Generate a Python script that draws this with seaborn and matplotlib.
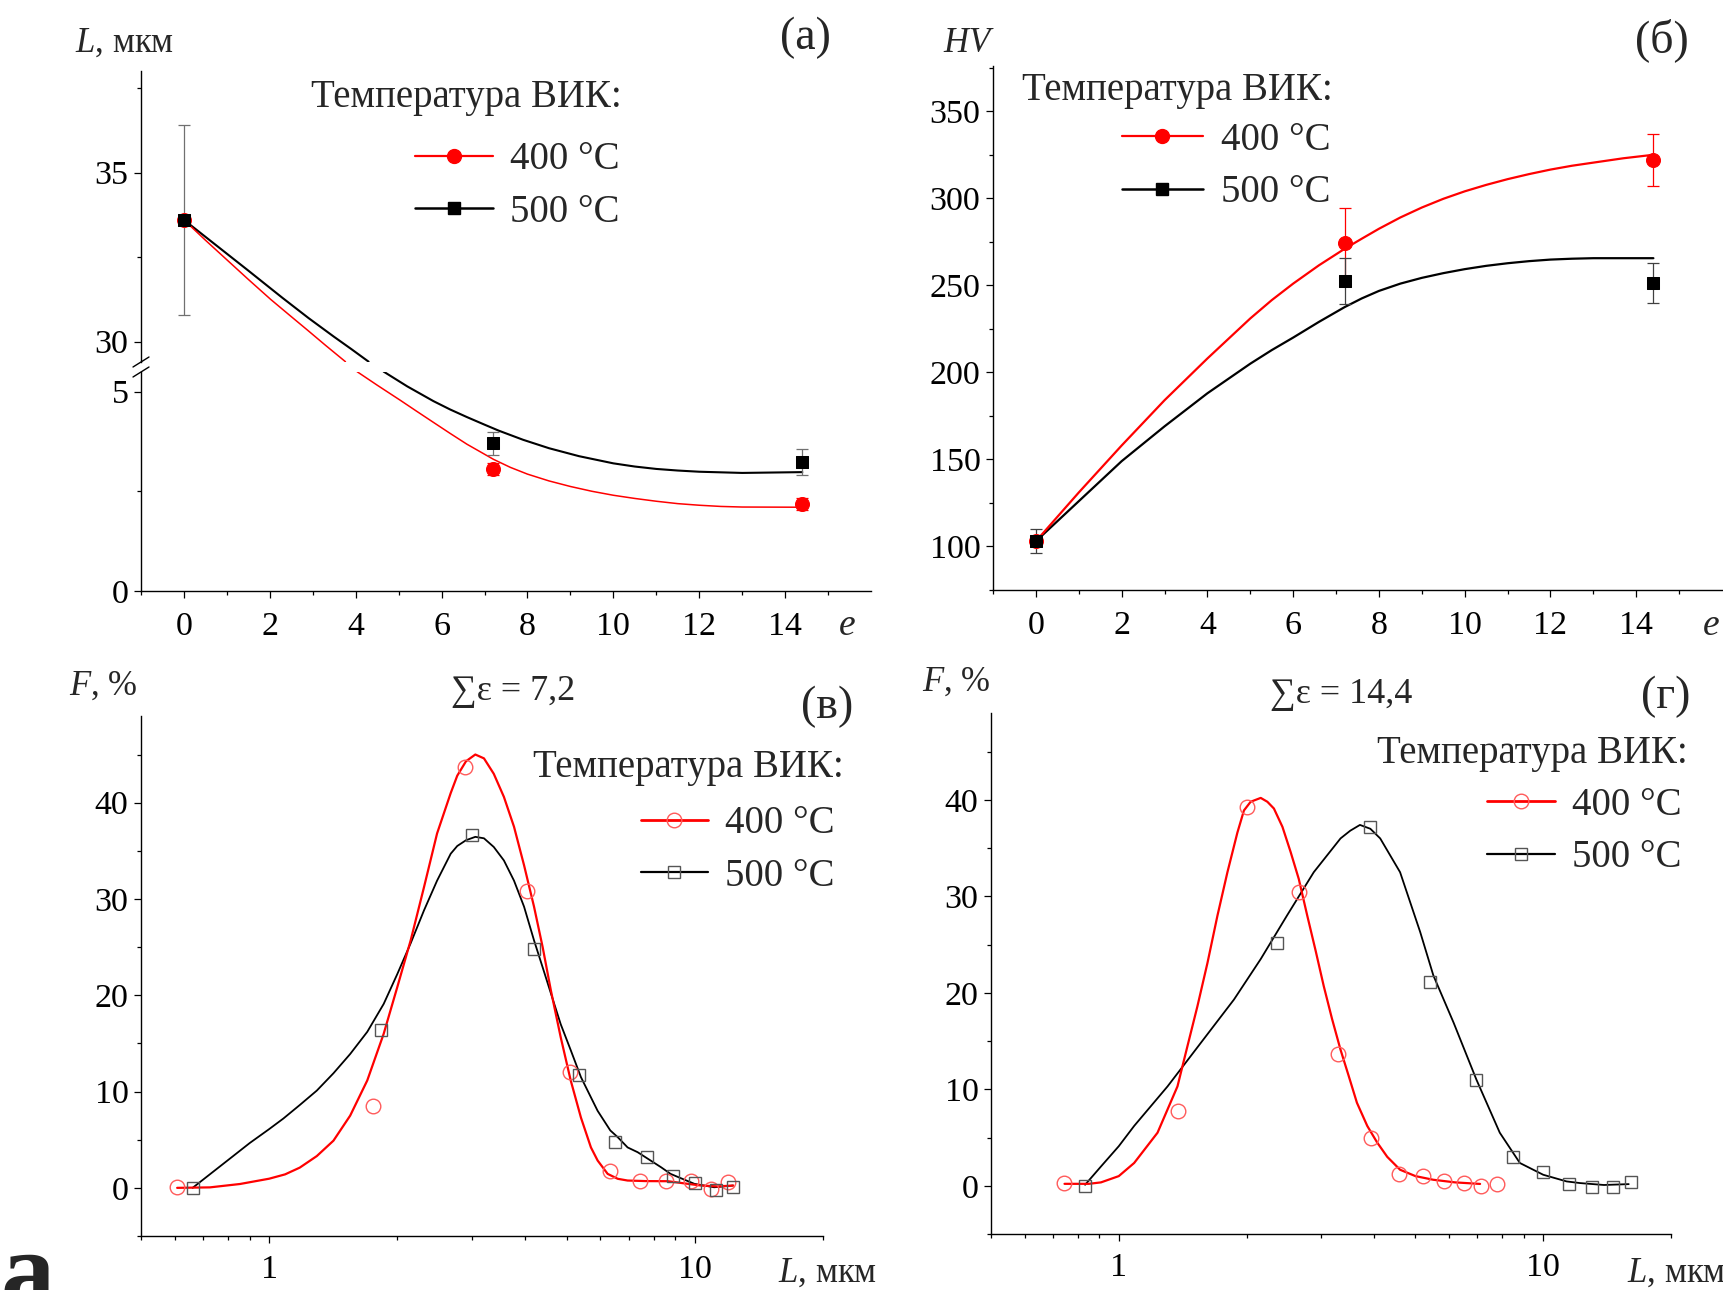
import numpy as np
import pandas as pd
import seaborn as sns
import matplotlib.pyplot as plt
from matplotlib.lines import Line2D
from matplotlib.ticker import FixedLocator, MultipleLocator, LogLocator, NullFormatter

W, H = 1724, 1290

# (а) grain size L vs strain e
e_pts = [0, 7.2, 14.4]
L_400 = [33.6, 3.05, 2.18]
L_400_err = [2.8, 0.15, 0.15]
L_500 = [33.6, 3.70, 3.24]
L_500_err = [2.8, 0.28, 0.32]
# fit curves (axis broken between 5.5 and 29.4)
fit_e_400 = [0, 0.5, 1, 1.5, 2.02, 2.5, 2.87, 3.3, 3.76, 4.03, 4.5, 5.04, 5.4, 5.82, 6.2, 6.59, 7.21,
             7.6, 8.0, 8.5, 9.0, 9.5, 10, 10.5, 11, 11.5, 12, 12.5, 13, 14.4]
fit_L_400 = [33.6, 33.0, 32.42, 31.84, 31.25, 30.74, 30.35, 29.89, 29.41, 5.5, 5.16, 4.78, 4.52, 4.22,
             3.95, 3.68, 3.30, 3.1, 2.93, 2.76, 2.62, 2.5, 2.40, 2.32, 2.25, 2.19, 2.15, 2.12, 2.105, 2.1]
fit_e_500 = [0, 0.5, 1, 1.5, 2.29, 2.9, 3.49, 3.9, 4.3, 4.65, 5.2, 5.81, 6.2, 6.59, 7.0, 7.33, 7.9,
             8.5, 9.2, 10, 10.5, 11, 11.5, 12, 13, 14.4]
fit_L_500 = [33.6, 33.1, 32.6, 32.1, 31.3, 30.7, 30.15, 29.78, 29.41, 5.5, 5.13, 4.76, 4.55, 4.36, 4.17,
             4.02, 3.79, 3.58, 3.38, 3.2, 3.12, 3.06, 3.02, 2.99, 2.96, 2.98]

# (б) hardness HV vs strain e
HV_400 = [103, 274.5, 322]
HV_400_err = [7, 20, 15]
HV_500 = [103, 252.5, 251.5]
HV_500_err = [7, 13, 11.5]
fit_e_hv = [0, 0.5, 1, 1.5, 2, 2.5, 3, 3.5, 4, 4.5, 5, 5.5, 6, 6.6, 7.2, 7.6, 8, 8.5, 9, 9.5, 10,
            10.5, 11, 11.5, 12, 12.5, 13, 13.7, 14.4]
fit_HV_400 = [103, 117, 131, 144.5, 158, 171, 184, 196, 208, 219.5, 231, 241.5, 251, 261.5, 271, 276.8,
              282.5, 289, 294.7, 299.7, 304, 307.7, 311, 313.9, 316.5, 318.7, 320.5, 323, 325]
fit_HV_500 = [103, 114.5, 126, 137.5, 149, 159, 169, 178.5, 188, 196.5, 205, 212.8, 220, 229, 237.5,
              242.5, 246.8, 251, 254.3, 257, 259.3, 261.2, 262.7, 263.9, 264.8, 265.3, 265.6, 265.6, 265.6]

# (в) size distribution, sum e = 7.2
c_L_400 = [0.608, 1.754, 2.89, 4.03, 5.09, 6.32, 7.44, 8.55, 9.8, 10.93, 11.95]
c_F_400 = [0.14, 8.55, 43.7, 30.8, 12.0, 1.73, 0.69, 0.69, 0.76, -0.1, 0.58]
c_L_500 = [0.661, 1.83, 3.0, 4.18, 5.35, 6.5, 7.72, 8.87, 10.0, 11.2, 12.3]
c_F_500 = [0.0, 16.35, 36.6, 24.85, 11.75, 4.8, 3.25, 1.28, 0.48, -0.18, 0.13]
c_fit_L_400 = [0.608, 0.726, 0.854, 1.0, 1.09, 1.18, 1.294, 1.416, 1.55, 1.70, 1.858, 2.0, 2.15, 2.31,
               2.48, 2.67, 2.766, 2.9, 3.05, 3.196, 3.37, 3.56, 3.76, 3.97, 4.19, 4.39, 4.59, 4.84,
               5.11, 5.4, 5.7, 5.91, 6.24, 6.59, 6.95, 7.7, 8.64, 9.5, 10.35, 11.3, 12.3]
c_fit_F_400 = [0.0, 0.05, 0.4, 0.95, 1.4, 2.1, 3.3, 4.9, 7.5, 11.15, 16.0, 20.85, 25.7, 31.2,
               36.8, 41.0, 42.8, 44.3, 45.0, 44.6, 43.0, 40.6, 37.5, 33.5, 29.2, 25.0, 20.5, 15.65,
               11.15, 7.3, 4.2, 2.84, 1.45, 0.94, 0.76, 0.7, 0.69, 0.45, 0.24, 0.15, 0.24]
c_fit_L_500 = [0.661, 0.74, 0.823, 0.9, 1.0, 1.08, 1.18, 1.294, 1.416, 1.55, 1.70, 1.858, 2.0, 2.15,
               2.31, 2.48, 2.67, 2.766, 2.9, 3.05, 3.196, 3.37, 3.56, 3.76, 3.97, 4.19, 4.39, 4.59,
               4.84, 5.11, 5.4, 5.7, 5.91, 6.33, 6.59, 6.95, 7.34, 7.87, 8.33, 8.77, 9.97, 11.1, 12.3]
c_fit_F_500 = [0.0, 1.7, 3.3, 4.65, 6.1, 7.2, 8.6, 10.1, 11.9, 13.9, 16.2, 19.1, 22.2, 25.4,
               28.8, 31.9, 34.7, 35.5, 36.1, 36.45, 36.3, 35.4, 34.0, 31.9, 29.2, 25.7, 22.9, 20.2,
               17.0, 14.3, 11.5, 9.4, 8.0, 5.96, 5.26, 4.2, 3.7, 2.84, 2.14, 1.45, 0.42, 0.06, 0.24]

# (г) size distribution, sum e = 14.4
d_L_400 = [0.741, 1.38, 2.01, 2.66, 3.29, 3.93, 4.58, 5.2, 5.85, 6.49, 7.12, 7.77]
d_F_400 = [0.3, 7.8, 39.3, 30.4, 13.7, 5.0, 1.25, 0.97, 0.45, 0.28, 0.0, 0.2]
d_L_500 = [0.833, 2.36, 3.9, 5.42, 6.95, 8.5, 10.0, 11.5, 13.06, 14.58, 16.07]
d_F_500 = [0.0, 25.2, 37.2, 21.1, 11.0, 2.94, 1.42, 0.18, -0.13, -0.13, 0.42]
d_fit_L_400 = [0.745, 0.85, 0.908, 1.0, 1.087, 1.234, 1.375, 1.452, 1.532, 1.618, 1.708, 1.803, 1.903,
               1.972, 2.045, 2.16, 2.239, 2.32, 2.43, 2.54, 2.655, 2.78, 2.908, 3.04, 3.18, 3.33, 3.48,
               3.64, 3.85, 4.06, 4.29, 4.6, 5.0, 5.51, 6.2, 7.1]
d_fit_F_400 = [0.2, 0.2, 0.35, 1.0, 2.36, 5.5, 10.3, 14.5, 18.6, 23.1, 28.0, 32.5, 36.6,
               38.9, 39.8, 40.2, 39.8, 39.1, 37.2, 34.6, 31.8, 28.0, 24.4, 20.7, 17.3, 14.1, 11.4,
               8.6, 6.2, 4.5, 3.0, 1.66, 1.0, 0.62, 0.35, 0.19]
d_fit_L_500 = [0.833, 0.908, 1.0, 1.087, 1.303, 1.56, 1.868, 2.16, 2.49, 2.88, 3.33, 3.51, 3.7, 3.915,
               4.13, 4.6, 5.13, 5.51, 6.15, 6.96, 7.9, 8.81, 10.0, 11.35, 12.2, 13.9, 15.9]
d_fit_F_500 = [0.1, 2.0, 4.1, 6.2, 10.3, 14.8, 19.3, 23.5, 28.0, 32.5, 36.0, 36.8, 37.4, 37.0,
               36.0, 32.5, 26.3, 21.8, 16.9, 11.0, 5.5, 2.36, 1.14, 0.45, 0.28, 0.08, 0.17]

labels = ["400 °C", "500 °C"]
legend_title = "Температура ВИК:"

RED = "#ff0000"
RED_OPEN = "#ff5a5a"
GRAY_OPEN = "#555555"

sns.set_theme(style="ticks")
plt.rcParams["font.family"] = ["Liberation Serif", "DejaVu Serif"]
plt.rcParams["mathtext.fontset"] = "custom"
plt.rcParams["mathtext.rm"] = "Liberation Serif"
plt.rcParams["mathtext.it"] = "Liberation Serif:italic"
plt.rcParams["axes.linewidth"] = 1.0
plt.rcParams["axes.edgecolor"] = "black"

TICK_FS = 24.5
LEG_FS = 28


def rect(l, t, r, b):
    return [l / W, 1 - b / H, (r - l) / W, (b - t) / H]


def fx(px):
    return px / W


def fy(py):
    return 1 - py / H


def style_axis(ax):
    for s in ["top", "right"]:
        ax.spines[s].set_visible(False)
    ax.tick_params(which="major", direction="out", length=5, width=0.9, colors="black",
                   labelsize=TICK_FS, pad=4)
    ax.tick_params(which="minor", direction="out", length=3, width=0.9, colors="black")
    ax.set_xlabel("")
    ax.set_ylabel("")


def put_legend(ax, x_left, y_mid, hlen, open_markers):
    if open_markers:
        h1 = Line2D([], [], color=RED, lw=2.0, marker="o", ms=10.5, mfc="none", mec=RED_OPEN, mew=1.0)
        h2 = Line2D([], [], color="black", lw=1.6, marker="s", ms=9, mfc="none", mec=GRAY_OPEN, mew=1.0)
    else:
        h1 = Line2D([], [], color=RED, lw=1.6, marker="o", ms=10, mfc=RED, mec=RED)
        h2 = Line2D([], [], color="black", lw=1.8, marker="s", ms=9, mfc="black", mec="black")
    ax.legend([h1, h2], labels, loc="center left", bbox_to_anchor=(fx(x_left), fy(y_mid)),
              bbox_transform=fig.transFigure, frameon=False, fontsize=LEG_FS,
              handlelength=hlen, handletextpad=0.45, labelspacing=0.4, borderpad=0,
              borderaxespad=0)


fig = plt.figure(figsize=(W / 100, H / 100), dpi=100)

# ---------------- (а) broken y axis ----------------
ax_up = fig.add_axes(rect(141, 71, 871, 362))
ax_lo = fig.add_axes(rect(141, 372, 871, 591))
for ax in (ax_up, ax_lo):
    sns.lineplot(x=fit_e_500, y=fit_L_500, ax=ax, color="black", linewidth=1.5, sort=False, estimator=None)
    sns.lineplot(x=fit_e_400, y=fit_L_400, ax=ax, color=RED, linewidth=1.1, sort=False, estimator=None)
    ax.errorbar(e_pts[1:], L_400[1:], yerr=L_400_err[1:], fmt="none", ecolor=RED, elinewidth=0.9,
                capsize=4, capthick=0.9, zorder=3)
    ax.errorbar(e_pts, L_500, yerr=L_500_err, fmt="none", ecolor="#707070", elinewidth=0.9, capsize=4,
                capthick=0.9, zorder=4)
    sns.scatterplot(x=e_pts, y=L_400, ax=ax, marker="o", s=100, color=RED, edgecolor=RED, zorder=5)
    sns.scatterplot(x=e_pts, y=L_500, ax=ax, marker="s", s=85, color="black", edgecolor="black", zorder=6)
    style_axis(ax)
    ax.set_xlim(-1, 16)

ax_up.set_ylim(29.4, 38)
ax_up.yaxis.set_major_locator(FixedLocator([30, 35]))
ax_up.yaxis.set_minor_locator(FixedLocator([32.5, 37.5]))
ax_up.spines["bottom"].set_visible(False)
ax_up.tick_params(axis="x", which="both", bottom=False, labelbottom=False)

ax_lo.set_ylim(0, 5.49)
ax_lo.yaxis.set_major_locator(FixedLocator([0, 5]))
ax_lo.yaxis.set_minor_locator(FixedLocator([2.5]))
ax_lo.xaxis.set_major_locator(FixedLocator(list(range(0, 15, 2))))
ax_lo.xaxis.set_minor_locator(FixedLocator(list(range(-1, 16, 2))))
ax_lo.tick_params(axis="x", pad=10)

# break marks on the y axis
for yc in (362, 372):
    fig.add_artist(Line2D([fx(133), fx(149)], [fy(yc + 5), fy(yc - 5)], color="black", lw=1.0))

put_legend(ax_lo, 415, 186, 2.0, False)
fig.text(fx(311), fy(106.7), legend_title, fontsize=LEG_FS, va="baseline", ha="left")
fig.text(fx(75), fy(52), r"$\it{L}$, мкм", fontsize=25, va="baseline", ha="left")
fig.text(fx(805), fy(38), "(а)", fontsize=33, va="center", ha="center")
fig.text(fx(839), fy(635), "e", fontsize=27, style="italic", va="baseline", ha="left")

# ---------------- (б) hardness ----------------
ax_b = fig.add_axes(rect(993, 66, 1722, 590))
sns.lineplot(x=fit_e_hv, y=fit_HV_500, ax=ax_b, color="black", linewidth=1.6, sort=False, estimator=None)
sns.lineplot(x=fit_e_hv, y=fit_HV_400, ax=ax_b, color=RED, linewidth=1.6, sort=False, estimator=None)
ax_b.errorbar(e_pts[1:], HV_400[1:], yerr=HV_400_err[1:], fmt="none", ecolor=RED, elinewidth=0.9,
              capsize=4, capthick=0.9, zorder=3)
ax_b.errorbar(e_pts, HV_500, yerr=HV_500_err, fmt="none", ecolor="#404040", elinewidth=0.9, capsize=4,
              capthick=0.9, zorder=4)
sns.scatterplot(x=e_pts, y=HV_400, ax=ax_b, marker="o", s=100, color=RED, edgecolor=RED, zorder=5)
sns.scatterplot(x=e_pts, y=HV_500, ax=ax_b, marker="s", s=85, color="black", edgecolor="black", zorder=6)
style_axis(ax_b)
ax_b.set_xlim(-1, 16)
ax_b.set_ylim(75, 376)
ax_b.yaxis.set_major_locator(MultipleLocator(50))
ax_b.yaxis.set_minor_locator(MultipleLocator(25))
ax_b.xaxis.set_major_locator(FixedLocator(list(range(0, 15, 2))))
ax_b.xaxis.set_minor_locator(FixedLocator(list(range(-1, 16, 2))))
ax_b.tick_params(axis="x", pad=10)

put_legend(ax_b, 1121.6, 166.5, 2.1, False)
fig.text(fx(1022), fy(100), legend_title, fontsize=LEG_FS, va="baseline", ha="left")
fig.text(fx(943), fy(52), r"$\it{HV}$", fontsize=25, va="baseline", ha="left")
fig.text(fx(1662), fy(40), "(б)", fontsize=33, va="center", ha="center")
fig.text(fx(1703), fy(635), "e", fontsize=27, style="italic", va="baseline", ha="left")


# ---------------- (в), (г) distributions ----------------
def dist_panel(box, fit_L4, fit_F4, fit_L5, fit_F5, L4, F4, L5, F5):
    ax = fig.add_axes(rect(*box))
    sns.lineplot(x=fit_L5, y=fit_F5, ax=ax, color="black", linewidth=1.3, sort=False, estimator=None)
    sns.lineplot(x=fit_L4, y=fit_F4, ax=ax, color=RED, linewidth=1.6, sort=False, estimator=None)
    sns.lineplot(x=L4, y=F4, ax=ax, linestyle="", marker="o", markersize=10.5, markerfacecolor="none",
                 markeredgecolor=RED_OPEN, markeredgewidth=1.0, sort=False, estimator=None)
    sns.lineplot(x=L5, y=F5, ax=ax, linestyle="", marker="s", markersize=9, markerfacecolor="none",
                 markeredgecolor=GRAY_OPEN, markeredgewidth=1.0, sort=False, estimator=None)
    style_axis(ax)
    ax.set_xscale("log")
    ax.set_xlim(0.5, 20)
    ax.set_ylim(-5, 49)
    ax.set_xticks([1, 10], labels=["1", "10"])
    ax.xaxis.set_minor_locator(LogLocator(base=10, subs=np.arange(2, 10)))
    ax.xaxis.set_minor_formatter(NullFormatter())
    ax.yaxis.set_major_locator(MultipleLocator(10))
    ax.yaxis.set_minor_locator(MultipleLocator(5))
    ax.tick_params(axis="x", pad=8)
    return ax


ax_c = dist_panel((141, 716, 823, 1236), c_fit_L_400, c_fit_F_400, c_fit_L_500, c_fit_F_500,
                  c_L_400, c_F_400, c_L_500, c_F_500)
put_legend(ax_c, 640.7, 850, 1.72, True)
fig.text(fx(533), fy(777.5), legend_title, fontsize=LEG_FS, va="baseline", ha="left")
fig.text(fx(69), fy(695), r"$\it{F}$, %", fontsize=25, va="baseline", ha="left")
fig.text(fx(513), fy(700), "∑ε = 7,2", fontsize=26, va="baseline", ha="center")
fig.text(fx(827), fy(707), "(в)", fontsize=33, va="center", ha="center")
fig.text(fx(778), fy(1282), r"$\it{L}$, мкм", fontsize=25, va="baseline", ha="left")

ax_d = dist_panel((991, 713, 1671, 1234), d_fit_L_400, d_fit_F_400, d_fit_L_500, d_fit_F_500,
                  d_L_400, d_F_400, d_L_500, d_F_500)
put_legend(ax_d, 1486.7, 831.7, 1.75, True)
fig.text(fx(1376.7), fy(762.7), legend_title, fontsize=LEG_FS, va="baseline", ha="left")
fig.text(fx(922), fy(691), r"$\it{F}$, %", fontsize=25, va="baseline", ha="left")
fig.text(fx(1341), fy(703), "∑ε = 14,4", fontsize=26, va="baseline", ha="center")
fig.text(fx(1666), fy(697), "(г)", fontsize=33, va="center", ha="center")
fig.text(fx(1627), fy(1282), r"$\it{L}$, мкм", fontsize=25, va="baseline", ha="left")

# stray caption letter cut by the bottom edge
fig.text(fx(0), fy(1306), "а", fontsize=78, fontweight="bold", va="baseline", ha="left")

fig.savefig("out.png", dpi=100, facecolor="white")
